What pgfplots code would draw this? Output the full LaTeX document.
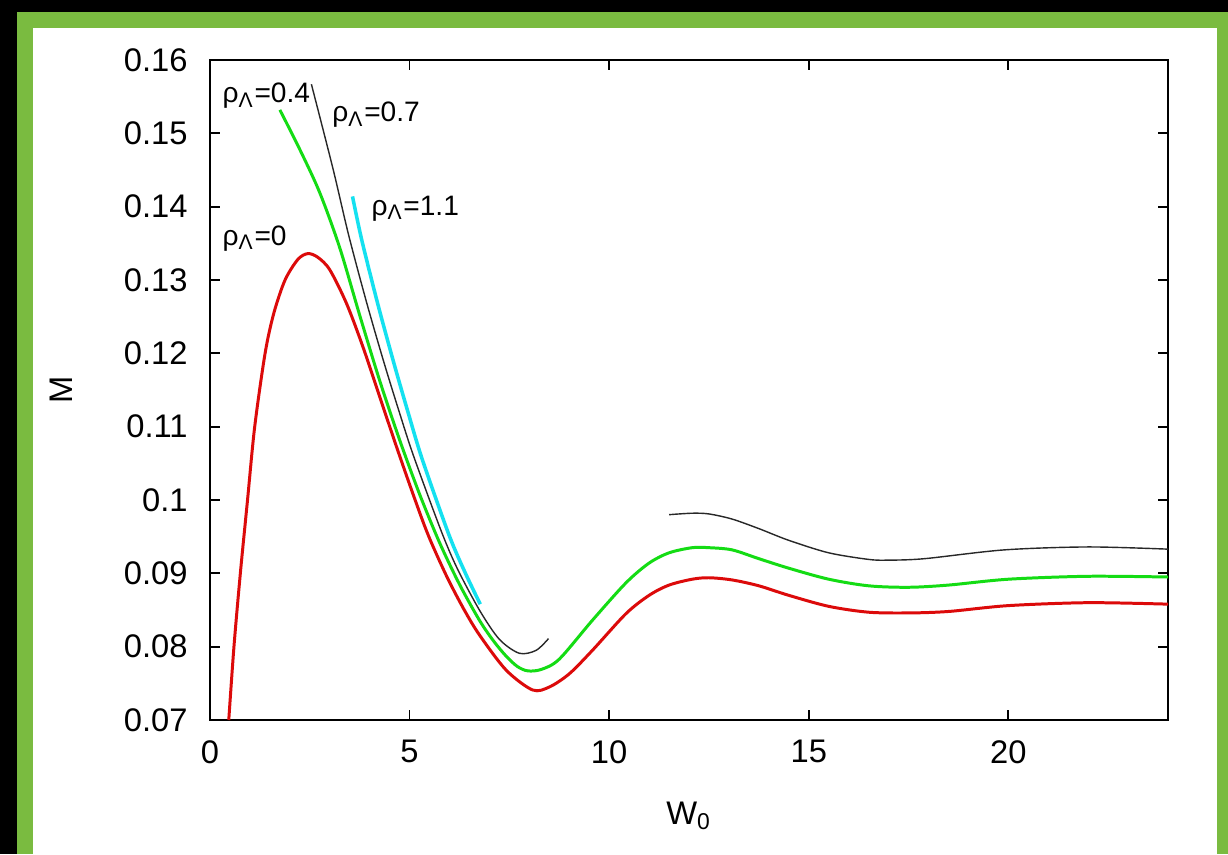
\documentclass[border=0pt]{standalone}
\usepackage{fontspec}
\setmainfont{Liberation Sans}
\usepackage{pgfplots}
\pgfplotsset{compat=1.18}
\definecolor{framegreen}{RGB}{122,187,64}
\definecolor{cred}{RGB}{220,10,10}
\definecolor{cgreen}{RGB}{20,220,20}
\definecolor{ccyan}{RGB}{20,225,240}
\definecolor{cblack}{RGB}{40,40,40}
\begin{document}
\begin{tikzpicture}
\fill[black] (0,0) rectangle (122.8mm,85.4mm);
\fill[framegreen] (1.7mm,0) rectangle (122.8mm,84.2mm);
\fill[white] (3.3mm,0) rectangle (121.7mm,82.6mm);
\begin{axis}[
  at={(21mm,13.4mm)}, anchor=south west,
  scale only axis, width=95.8mm, height=66mm,
  xmin=0, xmax=24, ymin=0.07, ymax=0.16,
  xtick={0,5,10,15,20},
  ytick={0.07,0.08,0.09,0.1,0.11,0.12,0.13,0.14,0.15,0.16},
  scaled y ticks=false,
  yticklabel style={/pgf/number format/fixed, /pgf/number format/precision=2},
  /pgf/number format/assume math mode=true,
  tick align=inside, major tick length=1mm,
  tick style={black, line width=0.5pt},
  axis line style={line width=0.6pt},
  ticklabel style={font=\fontsize{9.3}{11}\selectfont},
  yticklabel style={xshift=-1.0mm},
  xticklabel style={yshift=-0.8mm},
  label style={font=\fontsize{9.3}{11}\selectfont},
  xlabel={W\textsubscript{0}},
  ylabel={M},
  xlabel style={at={(axis description cs:0.5,-0.145)}, anchor=center},
  ylabel style={at={(axis description cs:-0.155,0.5)}, anchor=center},
  clip=true,
]
% rho = 0 (red)
\addplot[cred, line width=0.85pt, smooth] coordinates {
(0.47,0.070) (0.60,0.080) (0.76,0.090) (0.94,0.100) (1.12,0.110)
(1.38,0.120) (1.60,0.1255) (1.88,0.130) (2.2,0.1328) (2.45,0.1336)
(2.7,0.1331) (3.0,0.1314) (3.42,0.1268) (3.83,0.1209) (4.25,0.1141)
(4.67,0.1073) (5.08,0.1009) (5.46,0.0953) (5.92,0.0897) (6.35,0.0852)
(6.75,0.0816) (7.42,0.0768) (8.08,0.0741) (8.5,0.0745) (9.0,0.0763)
(9.58,0.0795) (10.42,0.0845) (11.0,0.0870) (11.5,0.0884) (12.08,0.0892)
(12.5,0.0894) (13.08,0.0891) (13.75,0.0883) (14.5,0.0870) (15.5,0.0855)
(16.5,0.0847) (17.5,0.0846) (18.5,0.0848) (20.0,0.0856) (22.0,0.0860)
(24.0,0.0858)
};
% rho = 0.4 (green)
\addplot[cgreen, line width=0.85pt, smooth] coordinates {
(1.75,0.1532) (2.25,0.1478) (2.75,0.1419) (3.25,0.1344) (3.75,0.1252)
(4.25,0.1163) (4.75,0.1082) (5.25,0.1008) (5.75,0.0942) (6.25,0.0885)
(6.75,0.0836) (7.1,0.0808) (7.42,0.0787) (7.7,0.0773) (7.96,0.0767)
(8.3,0.0769) (8.75,0.0783) (9.58,0.0836) (10.42,0.0887) (11.0,0.0914)
(11.5,0.0928) (12.08,0.0935) (12.5,0.0935) (13.08,0.0932) (13.75,0.0920)
(14.5,0.0907) (15.5,0.0892) (16.5,0.0883) (17.5,0.0881) (18.5,0.0884)
(20.0,0.0892) (22.0,0.0896) (24.0,0.0895)
};
% rho = 0.7 (black), lower branch
\addplot[cblack, line width=0.4pt, smooth] coordinates {
(2.54,0.1567) (3.08,0.1452) (3.47,0.1362) (3.92,0.1270) (4.35,0.1189)
(4.73,0.1122) (5.10,0.1060) (5.79,0.0958) (6.2,0.0906) (6.76,0.0849)
(7.25,0.0810) (7.75,0.0791) (8.17,0.0795) (8.48,0.0811)
};
% rho = 0.7 (black), upper branch
\addplot[cblack, line width=0.4pt, smooth] coordinates {
(11.5,0.0980) (12.08,0.0982) (12.5,0.0981) (13.08,0.0974) (13.75,0.0961)
(14.5,0.0945) (15.5,0.0928) (16.5,0.0919) (17.0,0.0918) (17.9,0.0920)
(19.9,0.0932) (22.0,0.0936) (24.0,0.0933)
};
% rho = 1.1 (cyan)
\addplot[ccyan, line width=1pt, smooth] coordinates {
(3.57,0.1414) (3.80,0.1355) (4.2,0.1268) (4.61,0.1186) (4.97,0.1118)
(5.32,0.1055) (5.99,0.0952) (6.40,0.0900) (6.77,0.0858)
};
\begin{scope}[every node/.style={font=\fontsize{8}{9}\selectfont, inner sep=0pt}]
\node[anchor=base west] at (axis cs:0.3,0.15414) {ρ\textsubscript{Λ}=0.4};
\node[anchor=base west] at (axis cs:3.05,0.15155) {ρ\textsubscript{Λ}=0.7};
\node[anchor=base west] at (axis cs:4.03,0.13886) {ρ\textsubscript{Λ}=1.1};
\node[anchor=base west] at (axis cs:0.3,0.13477) {ρ\textsubscript{Λ}=0};
\end{scope}
\end{axis}
\end{tikzpicture}
\end{document}
